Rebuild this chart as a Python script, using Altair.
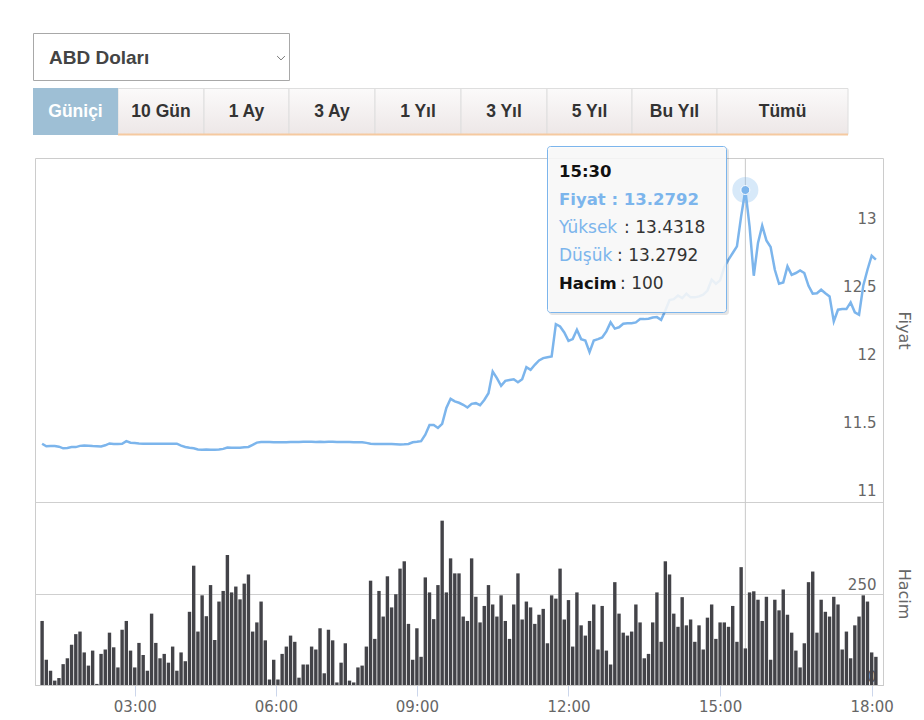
import altair as alt
import pandas as pd

# ---------------- data ----------------
currency = "ABD Doları"
range_buttons = ["Güniçi", "10 Gün", "1 Ay", "3 Ay", "1 Yıl", "3 Yıl", "5 Yıl", "Bu Yıl", "Tümü"]
selected_button = "Güniçi"

price = [
    11.414, 11.395, 11.397, 11.397, 11.392, 11.380, 11.382, 11.389, 11.389, 11.398,
    11.401, 11.399, 11.397, 11.396, 11.394, 11.402, 11.416, 11.411, 11.412, 11.414,
    11.433, 11.421, 11.419, 11.416, 11.414, 11.414, 11.414, 11.414, 11.414, 11.414,
    11.414, 11.414, 11.414, 11.400, 11.390, 11.384, 11.380, 11.372, 11.369, 11.371,
    11.370, 11.370, 11.371, 11.376, 11.386, 11.385, 11.384, 11.384, 11.387, 11.390,
    11.405, 11.422, 11.426, 11.426, 11.426, 11.425, 11.424, 11.424, 11.425, 11.426,
    11.427, 11.427, 11.428, 11.428, 11.428, 11.427, 11.428, 11.427, 11.428, 11.428,
    11.427, 11.427, 11.426, 11.426, 11.425, 11.425, 11.424, 11.420, 11.413, 11.411,
    11.411, 11.411, 11.412, 11.411, 11.410, 11.409, 11.410, 11.412, 11.424, 11.428,
    11.433, 11.480, 11.552, 11.552, 11.530, 11.560, 11.677, 11.744, 11.725, 11.715,
    11.700, 11.680, 11.707, 11.712, 11.697, 11.736, 11.785, 11.945, 11.896, 11.840,
    11.876, 11.883, 11.888, 11.866, 11.888, 11.977, 11.957, 11.994, 12.026, 12.043,
    12.050, 12.055, 12.293, 12.276, 12.232, 12.170, 12.183, 12.252, 12.183, 12.173,
    12.087, 12.173, 12.183, 12.195, 12.240, 12.306, 12.260, 12.270, 12.296, 12.300,
    12.300, 12.306, 12.330, 12.330, 12.333, 12.342, 12.345, 12.325, 12.394, 12.470,
    12.477, 12.504, 12.485, 12.517, 12.490, 12.490, 12.497, 12.510, 12.540, 12.620,
    12.590, 12.615, 12.713, 12.767, 12.816, 12.865, 13.086, 13.2792, 13.012, 12.649,
    12.890, 13.017, 12.909, 12.860, 12.693, 12.590, 12.600, 12.718, 12.656, 12.669,
    12.688, 12.669, 12.575, 12.517, 12.520, 12.546, 12.520, 12.497, 12.313, 12.399,
    12.404, 12.404, 12.453, 12.380, 12.362, 12.575, 12.693, 12.796, 12.767,
]

volume = [
    175, 69, 39, 12, 19, 57, 73, 110, 139, 146,
    89, 53, 94, 3, 85, 97, 143, 103, 48, 151,
    175, 94, 48, 115, 82, 39, 195, 115, 73, 85,
    61, 105, 39, 89, 65, 200, 326, 146, 245, 188,
    273, 123, 228, 257, 355, 253, 269, 234, 277, 302,
    146, 171, 228, 122, 15, 69, 15, 85, 105, 135,
    118, 20, 56, 56, 105, 97, 155, 32, 151, 122,
    7, 61, 114, 12, 7, 48, 53, 105, 285, 126,
    257, 187, 297, 212, 248, 318, 338, 167, 69, 155,
    77, 294, 253, 180, 273, 449, 253, 346, 305, 305,
    187, 175, 346, 241, 171, 216, 273, 220, 187, 245,
    175, 126, 220, 305, 179, 228, 212, 167, 192, 208,
    114, 245, 236, 318, 179, 232, 105, 253, 163, 135,
    175, 220, 97, 216, 94, 56, 281, 195, 143, 135,
    146, 220, 171, 73, 85, 171, 253, 118, 338, 302,
    195, 159, 240, 163, 179, 118, 163, 97, 184, 220,
    126, 171, 171, 159, 216, 118, 322, 100, 253, 256,
    233, 175, 241, 69, 233, 204, 261, 192, 143, 94,
    48, 114, 281, 310, 143, 233, 200, 187, 241, 220,
    97, 146, 73, 163, 187, 245, 228, 89, 77,
]

# ordinal time axis: position (point index) of each hour label
tick_index = [22, 55.5, 89, 125, 161, 197]
tick_labels = ["03:00", "06:00", "09:00", "12:00", "15:00", "18:00"]

hover_index = 167
hover_time = "15:30"
hover_high = 13.4318
hover_low = 13.2792

price_axis_values = [11, 11.5, 12, 12.5, 13]
volume_axis_values = [0, 250, 500]

# ---------------- layout / style ----------------
W, H = 848, 527          # plot area (price + volume panels)
OX, OY = 35, 158         # page position of the plot origin
FONT = "DejaVu Sans"
UI_FONT = "Liberation Sans"
BLUE = "#7cb5ec"
DARK = "#434348"
GRID = "#cfcfcf"
LABEL = "#666666"


def px(x):
    return x - OX


def py(y):
    return y - OY


one = pd.DataFrame({"k": [0]})
df = pd.DataFrame({"i": list(range(len(price))), "price": price, "volume": volume})

label_expr = " : ".join(
    f"datum.value == {v} ? '{t}'" for v, t in zip(tick_index, tick_labels)
) + " : ''"

x_enc = alt.X(
    "i:Q",
    scale=alt.Scale(domain=[-0.5, len(price) - 0.5], zero=False, nice=False),
    axis=alt.Axis(
        values=tick_index, labelExpr=label_expr, title=None, grid=False,
        domainColor="#c8c8c8", tickColor="#ccd6eb", tickSize=11, labelPadding=3,
        labelFlush=False, labelOverlap=False, labelColor=LABEL, labelFont=FONT,
        labelFontSize=15,
    ),
)

common_y_axis = dict(
    orient="right", domain=False, ticks=False, tickSize=0, labelAlign="right",
    labelBaseline="alphabetic", labelPadding=-7, gridColor=GRID, gridWidth=1,
    labelColor=LABEL, labelFont=FONT, labelFontSize=15, format=".4~f",
    titleColor=LABEL, titleFont=FONT, titleFontSize=16, titleFontWeight="normal",
    titleX=20, titleBaseline="middle", titleAngle=90,
)

y_price = alt.Y(
    "price:Q",
    scale=alt.Scale(domain=[11, 13.5], range=[342, 2], zero=False, nice=False),
    axis=alt.Axis(values=price_axis_values, title="Fiyat", labelOffset=-5, **common_y_axis),
)
y_vol = alt.Y(
    "volume:Q",
    scale=alt.Scale(domain=[0, 500], range=[527, 344], zero=False, nice=False),
    axis=alt.Axis(values=volume_axis_values, title="Hacim", labelOffset=-4,
                  labelExpr="datum.value == 500 ? '' : datum.label", **common_y_axis),
)

# ---------------- chart marks ----------------
crosshair = alt.Chart(df).transform_filter(alt.datum.i == hover_index).mark_rule(
    color="#c8c8c8", strokeWidth=1).encode(x=x_enc)

bars = alt.Chart(df).mark_bar(size=3.4, color=DARK).encode(x=x_enc, y=y_vol)

line = alt.Chart(df).mark_line(color=BLUE, strokeWidth=2.5).encode(x=x_enc, y=y_price)
halo = alt.Chart(df).transform_filter(alt.datum.i == hover_index).mark_circle(
    size=680, color=BLUE, opacity=0.3).encode(x=x_enc, y=y_price)
dot = alt.Chart(df).transform_filter(alt.datum.i == hover_index).mark_circle(
    size=80, color=BLUE, opacity=1, stroke="white", strokeWidth=1).encode(x=x_enc, y=y_price)
price_layer = alt.layer(line, halo, dot)

# ---------------- page furniture (dropdown + range buttons) ----------------
dropdown_rect = alt.Chart(one).mark_rect(fill="white", stroke="#a8a8a8", strokeWidth=1).encode(
    x=alt.value(px(33.5)), x2=alt.value(px(289.5)), y=alt.value(py(33.5)), y2=alt.value(py(80.5)))
dropdown_text = alt.Chart(one).mark_text(
    font=UI_FONT, fontWeight="bold", fontSize=19, color="#444444", align="left", baseline="middle"
).encode(x=alt.value(px(49)), y=alt.value(py(57.5)), text=alt.value(currency))
chevron = alt.Chart(one).mark_point(
    shape="M-1,-0.5L0,0.5L1,-0.5", filled=False, size=60, color="#666666", strokeWidth=0.9, opacity=1
).encode(x=alt.value(px(281)), y=alt.value(py(58)))

button_edges = [33, 118, 204, 289, 375, 461, 547, 632, 717, 848]
buttons = pd.DataFrame({
    "label": range_buttons,
    "x0": [px(e) for e in button_edges[:-1]],
    "x1": [px(e) for e in button_edges[1:]],
})
buttons["xc"] = (buttons["x0"] + buttons["x1"]) / 2
others = buttons[buttons["label"] != selected_button]
sel = buttons[buttons["label"] == selected_button]

btn_grad = alt.LinearGradient(
    gradient="linear",
    stops=[alt.GradientStop(color="#fbfafa", offset=0), alt.GradientStop(color="#ede7e7", offset=1)],
    x1=0, x2=0, y1=0, y2=1,
)
btn_rect = alt.Chart(others).mark_rect(color=btn_grad, stroke="#dedede", strokeWidth=1).encode(
    x=alt.X("x0:Q", scale=None), x2="x1:Q", y=alt.value(py(88.5)), y2=alt.value(py(134.5)))
sel_rect = alt.Chart(sel).mark_rect(color="#9ebfd5").encode(
    x=alt.X("x0:Q", scale=None), x2="x1:Q", y=alt.value(py(88)), y2=alt.value(py(135)))
underline = alt.Chart(one).mark_rule(color="#f5c9a0", strokeWidth=2).encode(
    x=alt.value(px(118)), x2=alt.value(px(848)), y=alt.value(py(134.5)))
btn_text = alt.Chart(others).mark_text(
    font=UI_FONT, fontWeight="bold", fontSize=17.5, color="#333333", baseline="middle"
).encode(x=alt.X("xc:Q", scale=None), y=alt.value(py(111.5)), text="label:N")
sel_text = alt.Chart(sel).mark_text(
    font=UI_FONT, fontWeight="bold", fontSize=17.5, color="white", baseline="middle"
).encode(x=alt.X("xc:Q", scale=None), y=alt.value(py(111.5)), text="label:N")

# ---------------- tooltip ----------------
tip_shadow = alt.Chart(one).mark_rect(color="black", opacity=0.10, cornerRadius=3).encode(
    x=alt.value(px(549)), x2=alt.value(px(729)), y=alt.value(py(148)), y2=alt.value(py(315)))
tip_box = alt.Chart(one).mark_rect(
    fill="#fbfbfb", fillOpacity=0.88, stroke=BLUE, strokeWidth=1, cornerRadius=3
).encode(x=alt.value(px(547.5)), x2=alt.value(px(726.5)), y=alt.value(py(146.5)), y2=alt.value(py(312.5)))


def tip_text(rows, weight, size, color):
    d = pd.DataFrame(rows, columns=["t", "x", "y"])
    d["x"] = d["x"].map(px)
    d["y"] = d["y"].map(py)
    return alt.Chart(d).mark_text(
        font=FONT, fontWeight=weight, fontSize=size, color=color, align="left", baseline="alphabetic"
    ).encode(x=alt.X("x:Q", scale=None), y=alt.Y("y:Q", scale=None), text="t:N")


tip_bold_dark = tip_text([(hover_time, 559, 177), ("Hacim", 559, 288.5)], "bold", 16.5, "#111111")
tip_bold_blue = tip_text([(f"Fiyat : {price[hover_index]:.4f}", 559, 204.5)], "bold", 16.5, BLUE)
tip_norm_blue = tip_text([("Yüksek", 559, 232.5), ("Düşük", 559, 260.5)], "normal", 17, BLUE)
tip_norm_dark = tip_text([
    (f": {hover_high:.4f}", 624, 232.5),
    (f": {hover_low:.4f}", 617, 260.5),
    (f": {volume[hover_index]}", 620, 288.5),
], "normal", 17, "#333333")

chart = alt.layer(
    dropdown_rect, dropdown_text, chevron,
    btn_rect, sel_rect, underline, btn_text, sel_text,
    crosshair, bars, price_layer,
    tip_shadow, tip_box, tip_bold_dark, tip_bold_blue, tip_norm_blue, tip_norm_dark,
).resolve_scale(y="independent").properties(
    width=W, height=H,
    autosize=alt.AutoSizeParams(type="none"),
    padding={"left": OX, "top": OY, "right": 924 - OX - W, "bottom": 720 - OY - H},
    background="white",
).configure_view(stroke="#cccccc", strokeWidth=1)

chart.save("out.html", embed_options={"renderer": "svg", "actions": False})
